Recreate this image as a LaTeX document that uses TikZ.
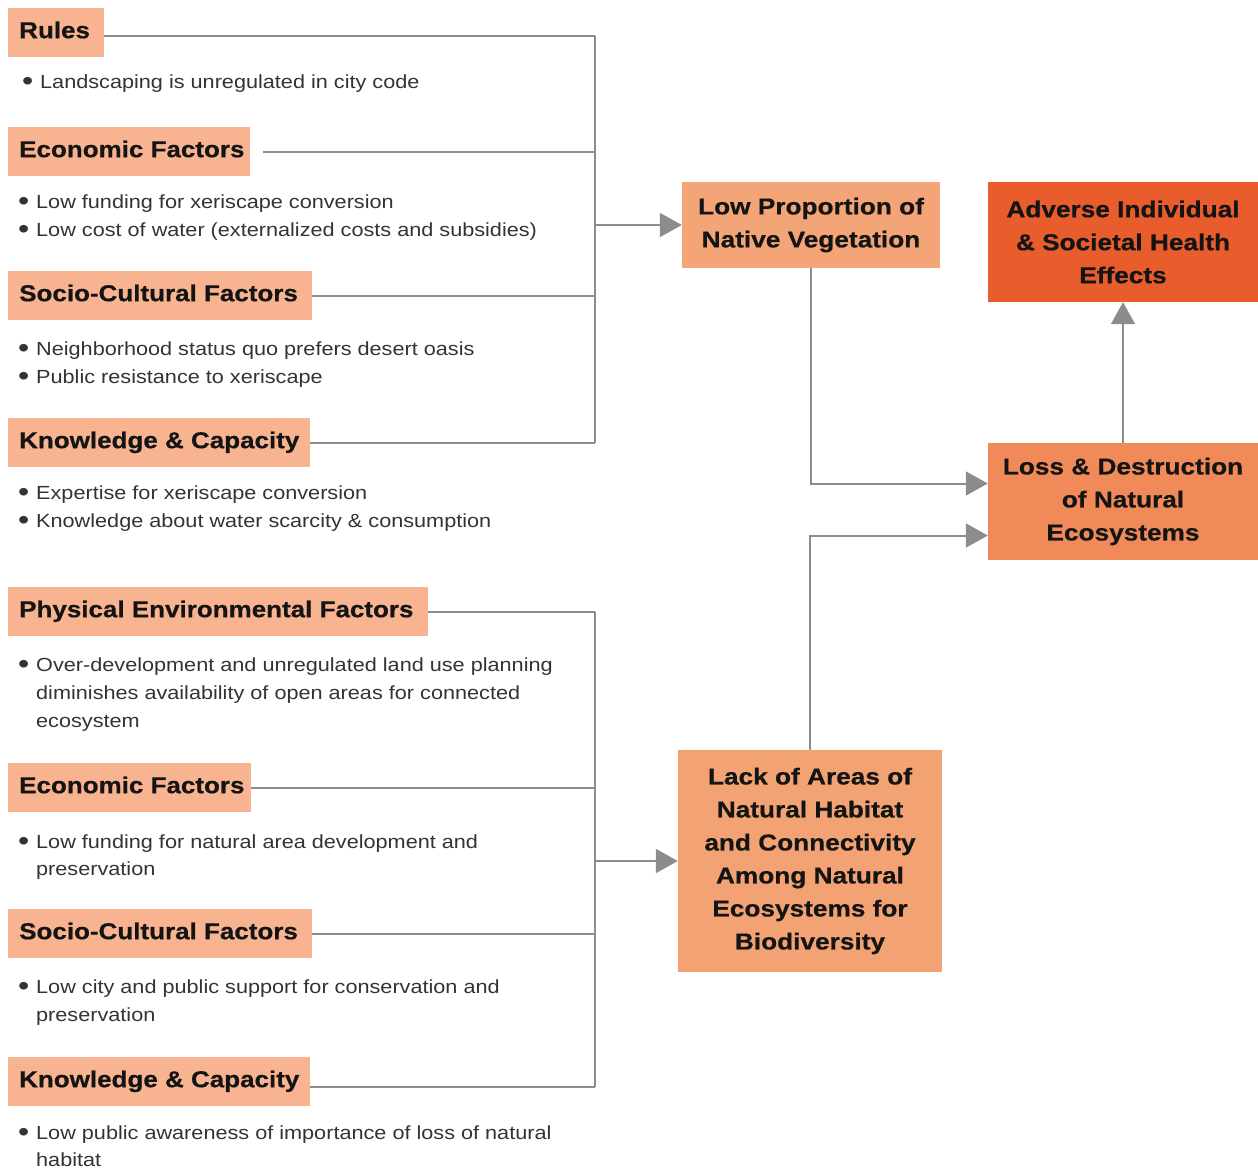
\documentclass[tikz,border=0pt]{standalone}
\usepackage{fontspec}
\setmainfont{Liberation Sans}
\newfontfamily\bodyfont[FakeStretch=1.14]{Liberation Sans}
\newfontfamily\headfont[FakeStretch=1.13,FakeBold=0.6]{Liberation Sans Bold}
\newfontfamily\effectfont[FakeStretch=1.14,FakeBold=0.6]{Liberation Sans Bold}
\usetikzlibrary{arrows.meta}
\definecolor{hdrc}{HTML}{F8B490}
\definecolor{lpc}{HTML}{F4A578}
\definecolor{lackc}{HTML}{F3A373}
\definecolor{lossc}{HTML}{F08A58}
\definecolor{advc}{HTML}{E85D2B}
\definecolor{linec}{HTML}{8C8C8C}
\definecolor{bodyc}{HTML}{333333}
\newcommand{\bul}{\makebox[18pt][l]{\raisebox{-2pt}{\fontsize{28}{28}\selectfont\textbullet}}}
\newcommand{\ind}{\hspace*{18pt}}
\newcommand{\hbx}[2]{\makebox[#1][l]{#2}}
\begin{document}
\begin{tikzpicture}[x=1pt,y=-1pt,
  hdrbox/.style={fill=hdrc, anchor=north west, minimum height=49pt, inner xsep=11pt, inner ysep=0pt,
    text height=16pt, text depth=5pt, font=\headfont\fontsize{23}{26}\selectfont, text=black!92},
  body/.style={anchor=base west, inner sep=0pt, font=\bodyfont\fontsize{19}{28}\selectfont, text=bodyc},
  effect/.style={inner sep=0pt, align=center, font=\effectfont\fontsize{23}{33}\selectfont, text=black!92},
  conn/.style={draw=linec, line width=2pt},
  arr/.style={draw=linec, line width=2pt, -{Triangle[length=22pt,width=24pt]}}
]
\useasboundingbox (0,0) rectangle (1258,1171);
\coordinate (bx) at (595,0);

% top group
\node[hdrbox] (rul) at (8,8) {\hbx{74pt}{Rules}};
\node[body] (rul1) at (22,88) {\bul Landscaping is unregulated in city code};
\node[hdrbox] (eco1) at (8,127) {\hbx{220pt}{Economic Factors}};
\node[body] (eco1a) at (18,208) {\bul Low funding for xeriscape conversion};
\node[body] (eco1b) at (18,236) {\bul Low cost of water (externalized costs and subsidies)};
\node[hdrbox] (soc1) at (8,271) {\hbx{282pt}{Socio-Cultural Factors}};
\node[body] (soc1a) at (18,355) {\bul Neighborhood status quo prefers desert oasis};
\node[body] (soc1b) at (18,383) {\bul Public resistance to xeriscape};
\node[hdrbox] (kno1) at (8,418) {\hbx{280pt}{Knowledge \& Capacity}};
\node[body] (kno1a) at (18,499) {\bul Expertise for xeriscape conversion};
\node[body] (kno1b) at (18,527) {\bul Knowledge about water scarcity \& consumption};

% bottom group
\node[hdrbox] (phy) at (8,587) {\hbx{398pt}{Physical Environmental Factors}};
\node[body] (phya) at (18,671) {\bul Over-development and unregulated land use planning};
\node[body] (phyb) at (18,699) {\ind diminishes availability of open areas for connected};
\node[body] (phyc) at (18,727) {\ind ecosystem};
\node[hdrbox] (eco2) at (8,763) {\hbx{221pt}{Economic Factors}};
\node[body] (eco2a) at (18,848) {\bul Low funding for natural area development and};
\node[body] (eco2b) at (18,875) {\ind preservation};
\node[hdrbox] (soc2) at (8,909) {\hbx{282pt}{Socio-Cultural Factors}};
\node[body] (soc2a) at (18,993) {\bul Low city and public support for conservation and};
\node[body] (soc2b) at (18,1021) {\ind preservation};
\node[hdrbox] (kno2) at (8,1057) {\hbx{280pt}{Knowledge \& Capacity}};
\node[body] (kno2a) at (18,1139) {\bul Low public awareness of importance of loss of natural};
\node[body] (kno2b) at (18,1166) {\ind habitat};

% effect boxes
\node[effect, fill=lpc, minimum width=258pt, minimum height=86pt] (lp) at (811,225)
  {Low Proportion of\\Native Vegetation};
\node[effect, fill=advc, minimum width=270pt, minimum height=120pt] (adv) at (1123,242)
  {Adverse Individual\\\& Societal Health\\Effects};
\node[effect, fill=lossc, minimum width=270pt, minimum height=117pt] (loss) at (1123,501.5)
  {Loss \& Destruction\\of Natural\\Ecosystems};
\node[effect, fill=lackc, minimum width=264pt, minimum height=222pt] (lack) at (810,861)
  {Lack of Areas of\\Natural Habitat\\and Connectivity\\Among Natural\\Ecosystems for\\Biodiversity};

% top bus
\draw[conn] ([yshift=-3pt]rul.east) -- ([yshift=-3pt]rul.east -| bx);
\draw[conn, shorten <=13pt] (eco1.east) -- (eco1.east -| bx);
\draw[conn] (soc1.east) -- (soc1.east -| bx);
\draw[conn] (kno1.east) -- (kno1.east -| bx);
\draw[conn] ([yshift=-3pt]rul.east -| bx) -- (kno1.east -| bx);
\draw[arr] (lp.west -| bx) -- (lp.west);

% bottom bus
\draw[conn] (phy.east) -- (phy.east -| bx);
\draw[conn] (eco2.east) -- (eco2.east -| bx);
\draw[conn] (soc2.east) -- (soc2.east -| bx);
\draw[conn] ([yshift=-5pt]kno2.east) -- ([yshift=-5pt]kno2.east -| bx);
\draw[conn] (phy.east -| bx) -- ([yshift=-5pt]kno2.east -| bx);
\draw[arr] (lack.west -| bx) -- (lack.west);

% effect arrows
\draw[arr] (lp.south) |- ([yshift=18pt]loss.west);
\draw[arr] (lack.north) |- ([yshift=-34pt]loss.west);
\draw[arr] (loss.north) -- (adv.south);
\end{tikzpicture}
\end{document}
